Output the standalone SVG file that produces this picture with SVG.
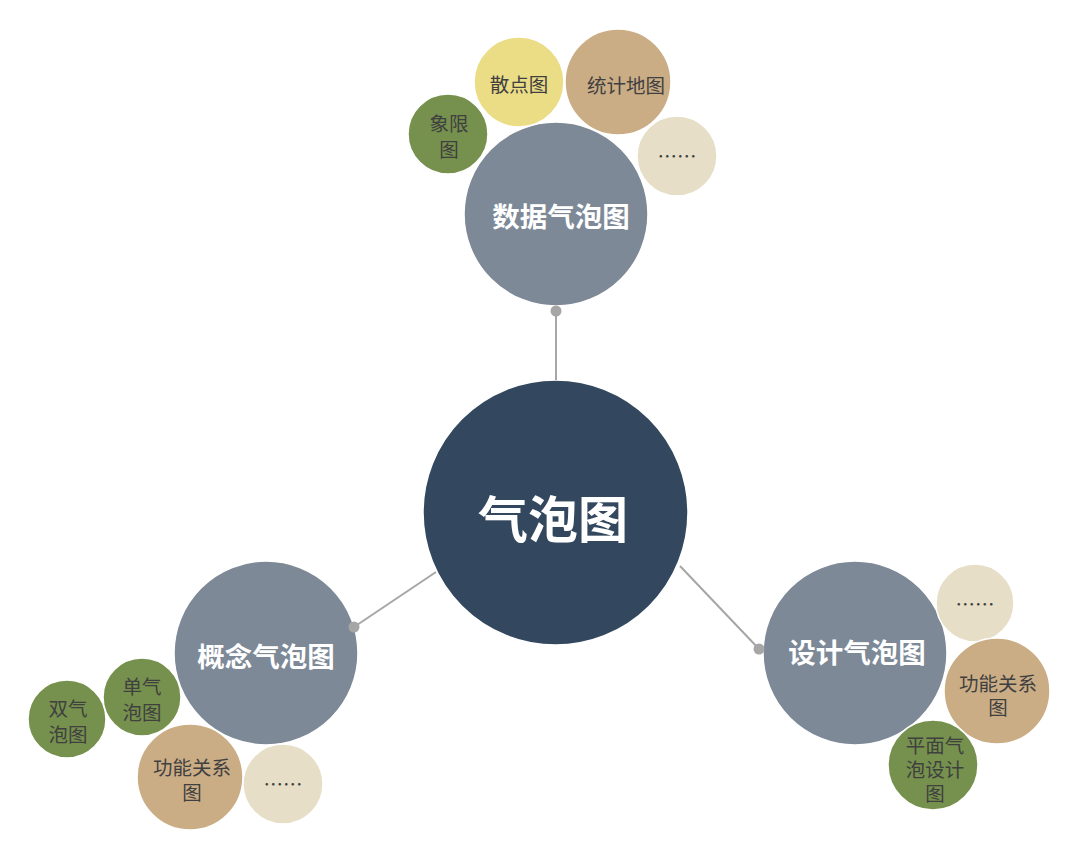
<svg xmlns="http://www.w3.org/2000/svg" width="1080" height="859" viewBox="0 0 1080 859">
<style>
.main{fill:#33485F}
.sec{fill:#7D8997}
.g{fill:#76914D}
.y{fill:#EBDC86}
.t{fill:#CBAD85}
.b{fill:#E7DEC7}
circle.c{stroke:#ffffff;stroke-width:1.5}
.lbl{font-family:"Noto Sans CJK SC","Noto Sans",sans-serif;font-size:19.5px;fill:#404040;text-anchor:middle;dominant-baseline:central}
.big{font-family:"Noto Sans CJK SC","Noto Sans",sans-serif;font-weight:bold;font-size:27.5px;fill:#ffffff;text-anchor:middle;dominant-baseline:central}
.huge{font-family:"Noto Sans CJK SC","Noto Sans",sans-serif;font-weight:bold;font-size:50px;fill:#ffffff;text-anchor:middle;dominant-baseline:central}
.ln{stroke:#A6A6A6;stroke-width:2;fill:none}
.dot{fill:#A6A6A6}
</style>
<rect width="1080" height="859" fill="#ffffff"/>
<g id="center">
<circle class="main c" cx="555.5" cy="512.5" r="132.5"/>
<text class="huge" x="553" y="516">气泡图</text>
</g>
<g id="top">
<circle class="sec c" cx="556" cy="214" r="92"/>
<text class="big" x="561" y="215">数据气泡图</text>
</g>
<g id="top-xiangxian">
<circle class="g c" cx="448" cy="134" r="40"/>
<text class="lbl" x="449" y="122">象限</text>
<text class="lbl" x="449" y="148">图</text>
</g>
<g id="top-sandian">
<circle class="y c" cx="519" cy="82" r="45"/>
<text class="lbl" x="519" y="83">散点图</text>
</g>
<g id="top-tongji">
<circle class="t c" cx="618" cy="82" r="53"/>
<text class="lbl" x="626" y="84">统计地图</text>
</g>
<g id="top-more">
<circle class="b c" cx="677" cy="156" r="40"/>
<text class="lbl" x="677" y="155">……</text>
</g>
<g id="left">
<circle class="sec c" cx="266" cy="653" r="92"/>
<text class="big" x="266" y="655">概念气泡图</text>
</g>
<g id="left-shuang">
<circle class="g c" cx="67" cy="719" r="39"/>
<text class="lbl" x="68" y="707">双气</text>
<text class="lbl" x="68" y="733">泡图</text>
</g>
<g id="left-dan">
<circle class="g c" cx="142" cy="697" r="39"/>
<text class="lbl" x="142" y="685">单气</text>
<text class="lbl" x="142" y="711">泡图</text>
</g>
<g id="left-gongneng">
<circle class="t c" cx="190" cy="777" r="53"/>
<text class="lbl" x="192" y="766">功能关系</text>
<text class="lbl" x="192" y="791">图</text>
</g>
<g id="left-more">
<circle class="b c" cx="283" cy="784" r="40"/>
<text class="lbl" x="283" y="783">……</text>
</g>
<g id="right">
<circle class="sec c" cx="855" cy="653" r="92"/>
<text class="big" x="857" y="651">设计气泡图</text>
</g>
<g id="right-more">
<circle class="b c" cx="975" cy="603" r="39"/>
<text class="lbl" x="975" y="603">……</text>
</g>
<g id="right-gongneng">
<circle class="t c" cx="997" cy="691" r="53"/>
<text class="lbl" x="998" y="682">功能关系</text>
<text class="lbl" x="998" y="706">图</text>
</g>
<g id="right-pingmian">
<circle class="g c" cx="933" cy="765" r="45"/>
<text class="lbl" x="935" y="744">平面气</text>
<text class="lbl" x="935" y="768">泡设计</text>
<text class="lbl" x="935" y="792">图</text>
</g>
<g id="connectors">
<line class="ln" x1="556" y1="311" x2="556" y2="380"/>
<circle class="dot" cx="556" cy="311" r="5.5"/>
<line class="ln" x1="354" y1="627" x2="436" y2="572"/>
<circle class="dot" cx="354" cy="627" r="5.5"/>
<line class="ln" x1="759" y1="649" x2="680" y2="566"/>
<circle class="dot" cx="759" cy="649" r="5.5"/>
</g>
</svg>
